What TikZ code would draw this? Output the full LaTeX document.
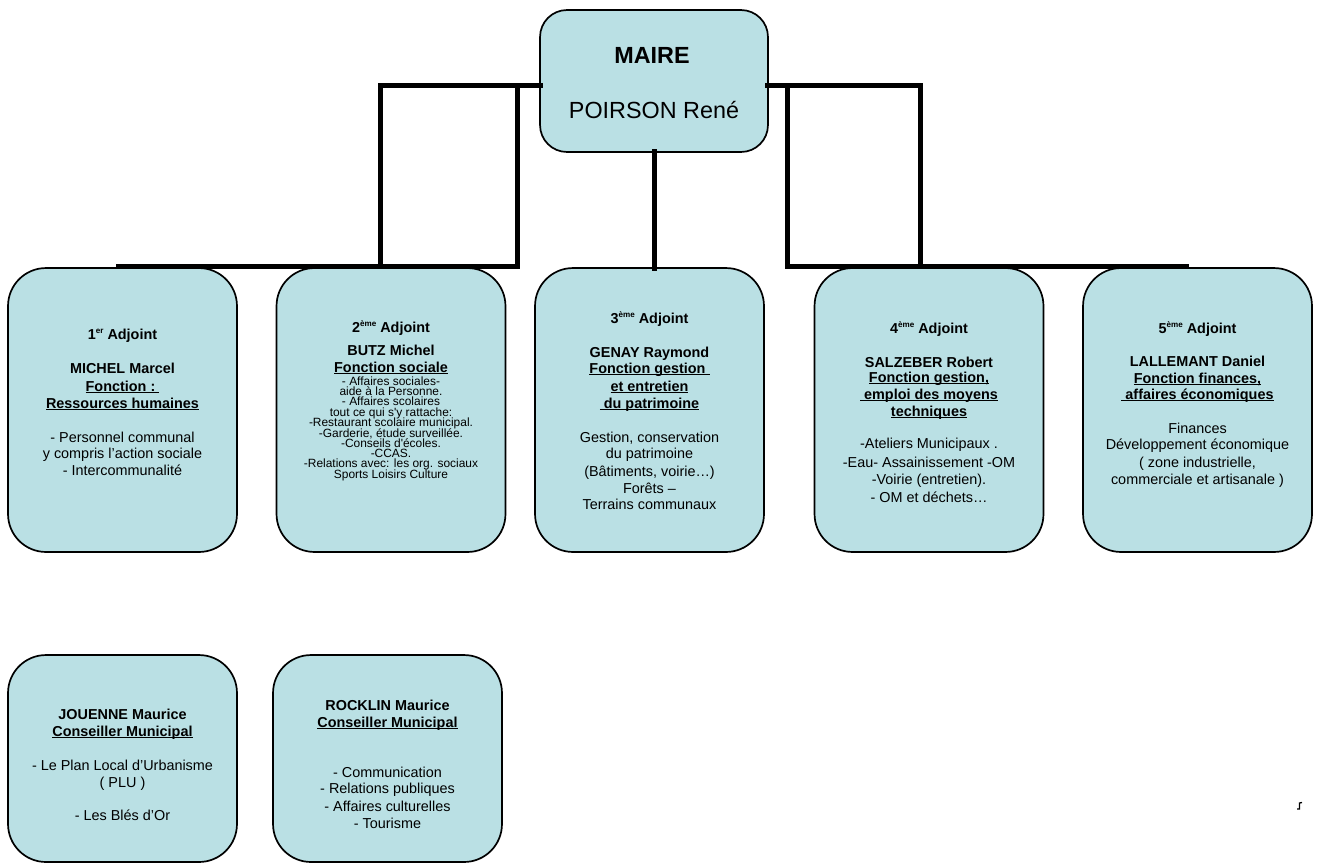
\documentclass[tikz,border=0pt]{standalone}
\usepackage{fontspec}
\setmainfont{Liberation Sans}
\definecolor{boxfill}{RGB}{186,224,228}
\newcommand\fbld{\fontsize{8.2}{9.8}\selectfont\bfseries}
\newcommand\freg{\fontsize{8.2}{9.8}\selectfont}
\newcommand\fsml{\fontsize{6.8}{7.5}\selectfont}
\newcommand\fbig{\fontsize{13.3}{15}\selectfont}
\newcommand\sups[1]{\raisebox{0.75ex}{\fontsize{4.6}{5}\selectfont #1}}
\newcommand\undl[1]{\leavevmode\setbox0\hbox{#1}\rlap{\rule[-1.3pt]{\wd0}{0.55pt}}\box0}
\newcommand\boxlines[3]{\foreach \ypos/\ltext [count=\i] in {#3} {\node[txt] (#1-\i) at (#2,\ypos) {\ltext};}}
\tikzset{
  abox/.style={draw=black, line width=0.034cm, fill=boxfill, rounded corners=0.76cm,
    minimum width=4.58cm, minimum height=5.68cm, inner sep=0pt, outer sep=0pt},
  cbox/.style={abox, minimum height=4.14cm},
  conn/.style={line width=0.1cm, line join=miter, line cap=rect},
  txt/.style={anchor=base, inner sep=0pt, outer sep=0pt},
}
\begin{document}
\begin{tikzpicture}[x=0.02cm, y=-0.02cm]
\useasboundingbox (0,0) rectangle (1317,863);

% mayor
\node[abox, minimum width=4.56cm, minimum height=2.84cm, rounded corners=0.54cm] (maire) at (654,81) {};
\node[txt] (mairet) at (652,63) {\fbig\bfseries MAIRE};
\node[txt] (mairen) at (654,118) {\fbig POIRSON René};

% adjoints
\node[abox] (a1) at (122.5,410) {};
\node[abox] (a2) at (391,410) {};
\node[abox] (a3) at (649.5,410) {};
\node[abox] (a4) at (929,410) {};
\node[abox] (a5) at (1197.5,410) {};

% councillors
\node[cbox] (c1) at (122.5,758.5) {};
\node[cbox] (c2) at (387.5,758.5) {};

% connectors
\coordinate (la) at (380,85);
\coordinate (lb) at (380,266);
\coordinate (lc) at (118,266);
\coordinate (ld) at (517,85);
\coordinate (le) at (517,266);
\coordinate (ra) at (920,85);
\coordinate (rb) at (920,266);
\coordinate (rc) at (787,85);
\coordinate (rd) at (787,266);
\coordinate (re) at (1186,266);
\draw[conn] (maire.west |- la) -- (la) -- (lb);
\draw[conn] (lc) -- (le) -- (ld);
\draw[conn] (maire.east |- ra) -- (ra) -- (rb);
\draw[conn] (rc) -- (rd) -- (re);
\draw[conn] (maire.south) -- (maire.south |- a3.north);

% texts
\boxlines{t1}{122.5}{339/{\fbld 1\sups{er} Adjoint},
  373/{\fbld MICHEL Marcel},
  391/{\fbld\undl{Fonction :\ }},
  408/{\fbld\undl{Ressources humaines}},
  442/{\freg - Personnel communal},
  458/{\freg y compris l’action sociale},
  475/{\freg - Intercommunalité}}

\boxlines{t2}{391}{332/{\fbld 2\sups{ème} Adjoint},
  355/{\fbld BUTZ Michel},
  372/{\fbld\undl{Fonction sociale}},
  385/{\fsml - Affaires sociales-},
  395/{\fsml aide à la Personne.},
  405/{\fsml - Affaires scolaires},
  416/{\fsml tout ce qui s\textquotesingle y rattache:},
  426/{\fsml -Restaurant scolaire municipal.},
  437/{\fsml -Garderie, étude surveillée.},
  447/{\fsml -Conseils d\textquotesingle écoles.},
  457/{\fsml -CCAS.},
  467/{\fsml -Relations avec: les org. sociaux},
  478/{\fsml Sports Loisirs Culture}}

\boxlines{t3}{649.5}{323/{\fbld 3\sups{ème} Adjoint},
  357/{\fbld GENAY Raymond},
  373/{\fbld\undl{Fonction gestion\ }},
  391/{\fbld\undl{et entretien}},
  408/{\fbld\undl{\ du patrimoine}},
  442/{\freg Gestion, conservation},
  458/{\freg du patrimoine},
  476/{\freg (Bâtiments, voirie…)},
  493/{\freg Forêts –},
  509/{\freg Terrains communaux}}

\boxlines{t4}{929}{333/{\fbld 4\sups{ème} Adjoint},
  367/{\fbld SALZEBER Robert},
  382/{\fbld\undl{Fonction gestion,}},
  399/{\fbld\undl{\ emploi des moyens}},
  416/{\fbld\undl{techniques}},
  448/{\freg -Ateliers Municipaux .},
  467/{\freg -Eau- Assainissement -OM},
  484/{\freg -Voirie (entretien).},
  502/{\freg - OM et déchets…}}

\boxlines{t5}{1197.5}{333/{\fbld 5\sups{ème} Adjoint},
  366/{\fbld LALLEMANT Daniel},
  383/{\fbld\undl{Fonction finances,}},
  399/{\fbld\undl{\ affaires économiques}},
  433/{\freg Finances},
  449/{\freg Développement économique},
  467/{\freg ( zone industrielle,},
  484/{\freg commerciale et artisanale )}}

\boxlines{u1}{122.5}{719/{\fbld JOUENNE Maurice},
  736/{\fbld\undl{Conseiller Municipal}},
  770/{\freg - Le Plan Local d’Urbanisme},
  787/{\freg ( PLU )},
  820/{\freg - Les Blés d’Or}}

\boxlines{u2}{387.5}{710/{\fbld ROCKLIN Maurice},
  727/{\fbld\undl{Conseiller Municipal}},
  777/{\freg - Communication},
  793/{\freg - Relations publiques},
  811/{\freg - Affaires culturelles},
  828/{\freg - Tourisme}}

% stray mark
\draw[line width=0.025cm] (1297,809) -- (1299.5,809) -- (1299.5,803) -- (1302,802.5);
\end{tikzpicture}
\end{document}
